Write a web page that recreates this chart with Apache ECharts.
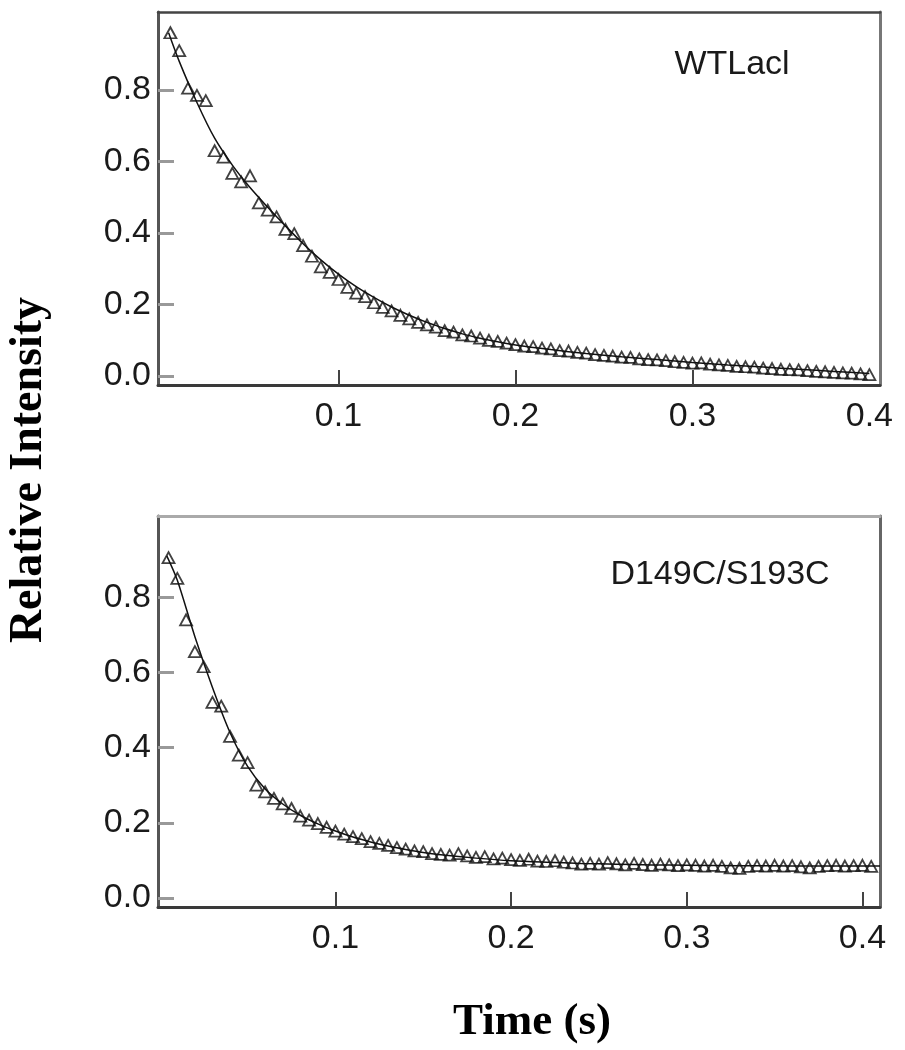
<!DOCTYPE html>
<html>
<head>
<meta charset="utf-8">
<script src="https://cdn.jsdelivr.net/npm/echarts@6/dist/echarts.min.js"></script>
<style>html,body{margin:0;padding:0;background:#fff}#c{width:905px;height:1050px}</style>
</head>
<body>
<div id="c"></div>
<script>
// ---- Data ----
var panelNames = ["WTLacl", "D149C/S193C"];
var yTickValues = [0.0, 0.2, 0.4, 0.6, 0.8];
var xLabelValues = [0.1, 0.2, 0.3, 0.4];
var xTickTop = [0.1, 0.2, 0.3];
var xTickBottom = [0.1, 0.2, 0.3, 0.4];

var timeWT = [0.005,0.010,0.015,0.020,0.025,0.030,0.035,0.040,0.045,0.050,
  0.055,0.060,0.065,0.070,0.075,0.080,0.085,0.090,0.095,0.100,
  0.105,0.110,0.115,0.120,0.125,0.130,0.135,0.140,0.145,0.150,
  0.155,0.160,0.165,0.170,0.175,0.180,0.185,0.190,0.195,0.200,
  0.205,0.210,0.215,0.220,0.225,0.230,0.235,0.240,0.245,0.250,
  0.255,0.260,0.265,0.270,0.275,0.280,0.285,0.290,0.295,0.300,
  0.305,0.310,0.315,0.320,0.325,0.330,0.335,0.340,0.345,0.350,
  0.355,0.360,0.365,0.370,0.375,0.380,0.385,0.390,0.395,0.400];
var intensityWT = [0.960,0.910,0.805,0.785,0.770,0.630,0.612,0.567,0.543,0.560,
  0.484,0.464,0.445,0.410,0.398,0.365,0.335,0.305,0.290,0.270,
  0.248,0.232,0.222,0.205,0.192,0.182,0.170,0.160,0.150,0.143,
  0.137,0.127,0.123,0.115,0.112,0.106,0.100,0.097,0.092,0.088,
  0.084,0.082,0.078,0.076,0.071,0.070,0.066,0.064,0.060,0.058,
  0.056,0.053,0.052,0.048,0.046,0.045,0.043,0.040,0.038,0.036,
  0.037,0.033,0.031,0.030,0.027,0.026,0.025,0.022,0.021,0.019,
  0.018,0.017,0.015,0.013,0.012,0.010,0.009,0.008,0.006,0.004];
var fitTimeWT = [0.004,0.010,0.020,0.030,0.040,0.050,0.060,0.070,0.080,0.090,0.100,
  0.110,0.120,0.130,0.140,0.150,0.160,0.170,0.180,0.190,0.200,
  0.220,0.240,0.260,0.280,0.300,0.320,0.340,0.360,0.380,0.400];
var fitWT = [0.960,0.880,0.765,0.665,0.590,0.527,0.472,0.420,0.370,0.325,0.285,
  0.250,0.220,0.193,0.170,0.150,0.133,0.118,0.106,0.096,0.087,
  0.074,0.063,0.054,0.046,0.038,0.031,0.025,0.019,0.013,0.007];

var timeMut = [0.005,0.010,0.015,0.020,0.025,0.030,0.035,0.040,0.045,0.050,
  0.055,0.060,0.065,0.070,0.075,0.080,0.085,0.090,0.095,0.100,
  0.105,0.110,0.115,0.120,0.125,0.130,0.135,0.140,0.145,0.150,
  0.155,0.160,0.165,0.170,0.175,0.180,0.185,0.190,0.195,0.200,
  0.205,0.210,0.215,0.220,0.225,0.230,0.235,0.240,0.245,0.250,
  0.255,0.260,0.265,0.270,0.275,0.280,0.285,0.290,0.295,0.300,
  0.305,0.310,0.315,0.320,0.325,0.330,0.335,0.340,0.345,0.350,
  0.355,0.360,0.365,0.370,0.375,0.380,0.385,0.390,0.395,0.400,0.405];
var intensityMut = [0.905,0.850,0.740,0.655,0.615,0.520,0.510,0.430,0.380,0.360,
  0.300,0.282,0.265,0.250,0.238,0.218,0.207,0.198,0.188,0.178,
  0.170,0.163,0.158,0.150,0.145,0.140,0.134,0.130,0.125,0.123,
  0.118,0.116,0.114,0.118,0.112,0.108,0.110,0.104,0.106,0.102,
  0.100,0.103,0.098,0.097,0.099,0.095,0.093,0.090,0.092,0.090,
  0.094,0.091,0.088,0.092,0.089,0.087,0.090,0.088,0.086,0.088,
  0.087,0.085,0.087,0.084,0.080,0.079,0.084,0.086,0.085,0.087,
  0.085,0.086,0.083,0.080,0.084,0.086,0.087,0.085,0.086,0.087,0.084];
var fitTimeMut = [0.004,0.010,0.020,0.030,0.040,0.050,0.060,0.070,0.080,0.090,0.100,
  0.110,0.120,0.130,0.140,0.150,0.160,0.180,0.200,0.220,0.240,
  0.260,0.280,0.300,0.330,0.360,0.390,0.410];
var fitMut = [0.910,0.845,0.695,0.560,0.440,0.350,0.290,0.250,0.220,0.197,0.178,
  0.162,0.149,0.138,0.129,0.121,0.115,0.106,0.099,0.095,0.092,
  0.090,0.088,0.087,0.086,0.085,0.085,0.085];

function pairs(xs, ys) { return xs.map(function (x, i) { return [x, ys[i]]; }); }

var chart = echarts.init(document.getElementById('c'), null, { renderer: 'canvas' });
var labelFont = { fontFamily: 'Liberation Sans, Arial, sans-serif', fontSize: 34, color: '#1a1a1a' };

function mainX(grid, min, max, ticks) {
  return {
    type: 'value', gridIndex: grid, min: min, max: max, position: 'bottom',
    axisLine: { show: true, onZero: false, lineStyle: { color: '#3a3a3a', width: 3 } },
    axisTick: { show: true, inside: true, length: 15, customValues: ticks, lineStyle: { color: '#444', width: 2 } },
    axisLabel: Object.assign({ show: true, margin: 15, customValues: xLabelValues,
      formatter: function (v) { return v.toFixed(1); } }, labelFont),
    splitLine: { show: false }
  };
}
function mainY(grid, min, max) {
  return {
    type: 'value', gridIndex: grid, min: min, max: max, position: 'left',
    axisLine: { show: true, onZero: false, lineStyle: { color: '#555', width: 3 } },
    axisTick: { show: true, inside: true, length: 16, customValues: yTickValues, lineStyle: { color: '#999', width: 3 } },
    axisLabel: Object.assign({ show: true, margin: 7, customValues: yTickValues,
      formatter: function (v) { return v.toFixed(1); } }, labelFont),
    splitLine: { show: false }
  };
}
function borderAxisX(grid, color, width) {
  return { type: 'value', gridIndex: grid, min: 0, max: 1, position: 'top',
    axisLine: { show: true, onZero: false, lineStyle: { color: color, width: width } },
    axisTick: { show: false }, axisLabel: { show: false }, splitLine: { show: false } };
}
function borderAxisY(grid, color, width) {
  return { type: 'value', gridIndex: grid, min: 0, max: 1, position: 'right',
    axisLine: { show: true, onZero: false, lineStyle: { color: color, width: width } },
    axisTick: { show: false }, axisLabel: { show: false }, splitLine: { show: false } };
}

var markerStyle = { color: 'rgba(255,255,255,0)', borderColor: '#111', borderWidth: 1.8 };

chart.setOption({
  animation: false,
  backgroundColor: '#ffffff',
  grid: [
    { left: 158, top: 12, width: 722, height: 373 },
    { left: 158, top: 516, width: 722, height: 391 }
  ],
  xAxis: [
    mainX(0, -0.002, 0.406, xTickTop),
    mainX(1, -0.001, 0.41, xTickBottom),
    borderAxisX(0, '#444', 2.5),
    borderAxisX(1, '#aaaaaa', 3)
  ],
  yAxis: [
    mainY(0, -0.025, 1.018),
    mainY(1, -0.024, 1.016),
    borderAxisY(0, '#777', 3),
    borderAxisY(1, '#666', 3)
  ],
  series: [
    { type: 'line', xAxisIndex: 0, yAxisIndex: 0, data: pairs(fitTimeWT, fitWT), smooth: 0.3,
      showSymbol: false, lineStyle: { color: '#111', width: 1.5 }, z: 2 },
    { type: 'scatter', xAxisIndex: 0, yAxisIndex: 0, data: pairs(timeWT, intensityWT),
      symbol: 'triangle', symbolSize: [12, 11], itemStyle: markerStyle, z: 3 },
    { type: 'line', xAxisIndex: 1, yAxisIndex: 1, data: pairs(fitTimeMut, fitMut), smooth: 0.3,
      showSymbol: false, lineStyle: { color: '#111', width: 1.5 }, z: 2 },
    { type: 'scatter', xAxisIndex: 1, yAxisIndex: 1, data: pairs(timeMut, intensityMut),
      symbol: 'triangle', symbolSize: [12, 11], itemStyle: markerStyle, z: 3 }
  ],
  graphic: [
    { type: 'text', x: 732, y: 65, style: { text: panelNames[0], fill: '#1a1a1a',
      font: '34px "Liberation Sans", Arial, sans-serif', align: 'center', verticalAlign: 'middle' } },
    { type: 'text', x: 720, y: 575, style: { text: panelNames[1], fill: '#1a1a1a',
      font: '34px "Liberation Sans", Arial, sans-serif', align: 'center', verticalAlign: 'middle' } },
    { type: 'text', x: 29, y: 470, rotation: Math.PI / 2, style: { text: 'Relative Intensity', fill: '#000',
      font: 'bold 46px "Liberation Serif", "Times New Roman", serif', align: 'center', verticalAlign: 'middle' } },
    { type: 'text', x: 532, y: 1022, style: { text: 'Time (s)', fill: '#000',
      font: 'bold 45px "Liberation Serif", "Times New Roman", serif', align: 'center', verticalAlign: 'middle' } }
  ]
});
</script>
</body>
</html>
